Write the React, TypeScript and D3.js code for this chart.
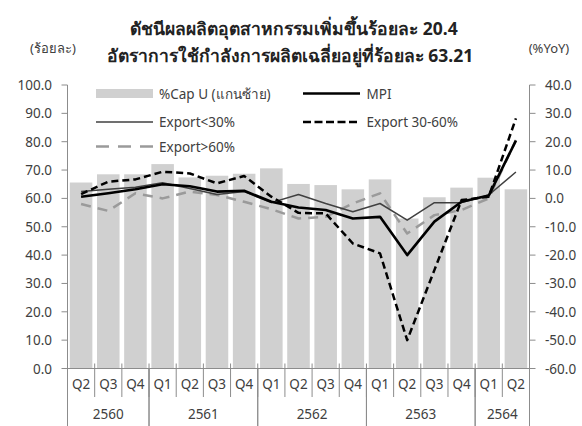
import React from "react";
import * as d3 from "d3";

const quarters = ["Q2","Q3","Q4","Q1","Q2","Q3","Q4","Q1","Q2","Q3","Q4","Q1","Q2","Q3","Q4","Q1","Q2"];
const years = [
  { label: "2560", start: 0, end: 3 },
  { label: "2561", start: 3, end: 7 },
  { label: "2562", start: 7, end: 11 },
  { label: "2563", start: 11, end: 15 },
  { label: "2564", start: 15, end: 17 },
];
const capU = [65.6, 68.5, 68.5, 72.1, 67.4, 68.0, 68.7, 70.6, 65.1, 64.7, 63.2, 66.7, 52.9, 60.4, 63.8, 67.3, 63.21];
const mpi = [0.6, 1.8, 3.2, 5.0, 4.3, 2.4, 2.7, -1.2, -3.2, -4.1, -7.1, -6.5, -20.0, -8.2, -1.2, 1.0, 20.4];
const exportLt30 = [2.4, 3.2, 3.9, 5.5, 3.5, 1.4, 2.4, -1.5, 1.4, -1.8, -4.7, -1.8, -7.7, -1.5, -1.5, 1.2, 9.3];
const export3060 = [1.5, 5.9, 6.7, 9.4, 8.8, 5.3, 7.9, 0.6, -5.1, -5.3, -15.9, -19.4, -50.0, -25.3, -0.6, 0.6, 28.2];
const exportGt60 = [-2.0, -4.4, 1.8, 0.0, 2.4, 1.2, -1.2, -3.8, -7.1, -6.5, -1.8, 1.8, -12.4, -5.9, -4.1, 0.0, 20.6];
const leftTicks = [0, 10, 20, 30, 40, 50, 60, 70, 80, 90, 100];
const rightTicks = [-60, -50, -40, -30, -20, -10, 0, 10, 20, 30, 40];

const FONT = "'Noto Sans', 'Open Sans', sans-serif";
const TXT = "#404040";
const AX = "#8c8c8c";
const FS = 13.5;

export default function App() {
  const x0 = 67.5, x1 = 529.5, yTop = 85, yBot = 368.5;
  const x = d3.scaleBand<number>().domain(d3.range(quarters.length)).range([x0, x1]).paddingInner(0.17).paddingOuter(0.085);
  const xb = d3.scaleBand<number>().domain(d3.range(quarters.length)).range([x0, x1]);
  const yL = d3.scaleLinear().domain([0, 100]).range([yBot, yTop]);
  const yR = d3.scaleLinear().domain([-60, 40]).range([yBot, yTop]);
  const cx = (i: number) => (xb(i) as number) + xb.bandwidth() / 2;
  const line = d3.line<number>().x((_, i) => cx(i)).y((d) => yR(d));

  const series = [
    { data: exportGt60, stroke: "#9a9a9a", w: 2.5, dash: "10,7" },
    { data: exportLt30, stroke: "#404040", w: 1.5, dash: "" },
    { data: mpi, stroke: "#000", w: 2.6, dash: "" },
    { data: export3060, stroke: "#000", w: 2.5, dash: "7,4" },
  ];

  return (
    <svg width={582} height={426} style={{ display: "block", position: "absolute", left: 0, top: 0 }} fontFamily={FONT}>
      <rect width={582} height={426} fill="#fff" />
      <text x={294} y={35} textAnchor="middle" fontSize={17.5} fontWeight="bold" fill="#222">ดัชนีผลผลิตอุตสาหกรรมเพิ่มขึ้นร้อยละ 20.4</text>
      <text x={290} y={62} textAnchor="middle" fontSize={17.5} fontWeight="bold" fill="#222">อัตราการใช้กำลังการผลิตเฉลี่ยอยู่ที่ร้อยละ 63.21</text>
      <text x={53} y={53} textAnchor="middle" fontSize={13} fill={TXT}>(ร้อยละ)</text>
      <text x={549} y={53} textAnchor="middle" fontSize={13} fill={TXT}>(%YoY)</text>

      {capU.map((v, i) => (
        <rect key={i} x={x(i)} y={yL(v)} width={x.bandwidth()} height={yBot - yL(v)} fill="#d0d0d0" />
      ))}

      {series.map((s, k) => (
        <path key={k} d={line(s.data) || ""} fill="none" stroke={s.stroke} strokeWidth={s.w} strokeDasharray={s.dash || undefined} strokeLinejoin="round" />
      ))}

      {/* left axis */}
      <line x1={x0} x2={x0} y1={yTop} y2={yBot} stroke={AX} strokeWidth={1} />
      {leftTicks.map((t) => (
        <g key={t}>
          <line x1={x0 - 6} x2={x0} y1={yL(t)} y2={yL(t)} stroke={AX} />
          <text x={52} y={yL(t) + 5} textAnchor="end" fontSize={FS} fill={TXT}>{t.toFixed(1)}</text>
        </g>
      ))}
      {/* right axis */}
      <line x1={x1} x2={x1} y1={yTop} y2={yBot} stroke={AX} strokeWidth={1} />
      {rightTicks.map((t) => (
        <g key={t}>
          <line x1={x1} x2={x1 + 6} y1={yR(t)} y2={yR(t)} stroke={AX} />
          <text x={545} y={yR(t) + 5} textAnchor="start" fontSize={FS} fill={TXT}>{t.toFixed(1)}</text>
        </g>
      ))}
      {/* category axis */}
      <line x1={x0} x2={x1} y1={yBot} y2={yBot} stroke={AX} strokeWidth={1.2} />
      {d3.range(quarters.length + 1).map((i) => {
        const xx = i < quarters.length ? (xb(i) as number) : x1;
        return <line key={i} x1={xx} x2={xx} y1={yBot - 5} y2={397} stroke={AX} />;
      })}
      {quarters.map((q, i) => (
        <text key={i} x={cx(i)} y={389} textAnchor="middle" fontSize={FS} fill={TXT}>{q}</text>
      ))}
      {years.map((yv) => {
        const xs = xb(yv.start) as number;
        const xe = yv.end < quarters.length ? (xb(yv.end) as number) : x1;
        return (
          <g key={yv.label}>
            <line x1={xs} x2={xs} y1={yBot} y2={426} stroke={AX} />
            <line x1={xe} x2={xe} y1={yBot} y2={426} stroke={AX} />
            <text x={(xs + xe) / 2} y={419} textAnchor="middle" fontSize={FS} fill={TXT}>{yv.label}</text>
          </g>
        );
      })}

      {/* legend */}
      <rect x={96} y={89} width={57} height={9} fill="#d0d0d0" />
      <text x={159} y={98.5} fontSize={FS} fill={TXT}>%Cap U (แกนซ้าย)</text>
      <line x1={303} x2={360} y1={93.5} y2={93.5} stroke="#000" strokeWidth={2.6} />
      <text x={366.5} y={98.5} fontSize={FS} fill={TXT}>MPI</text>
      <line x1={96} x2={153} y1={122} y2={122} stroke="#404040" strokeWidth={1.5} />
      <text x={159} y={127} fontSize={FS} fill={TXT}>Export&lt;30%</text>
      <line x1={303} x2={360} y1={122} y2={122} stroke="#000" strokeWidth={2.5} strokeDasharray="8,3.5" />
      <text x={366.5} y={127} fontSize={FS} fill={TXT}>Export 30-60%</text>
      <line x1={96} x2={153} y1={146.5} y2={146.5} stroke="#9a9a9a" strokeWidth={2.5} strokeDasharray="13,9" />
      <text x={159} y={151.5} fontSize={FS} fill={TXT}>Export&gt;60%</text>
    </svg>
  );
}
